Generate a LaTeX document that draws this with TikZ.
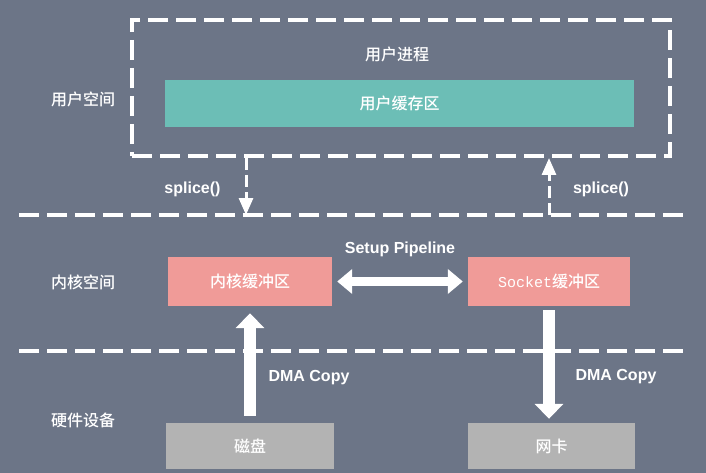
\documentclass[tikz,border=0pt]{standalone}
\usepackage{fontspec}
\setmainfont{Liberation Sans}
\newfontfamily\cjk{Noto Sans CJK SC}[FontFace={mb}{n}{Font=* Medium}]
\newfontfamily\monof{Liberation Mono}
\usetikzlibrary{arrows.meta}
\definecolor{bgc}{RGB}{108,117,135}
\definecolor{tealc}{RGB}{108,190,182}
\definecolor{pinkc}{RGB}{240,155,152}
\definecolor{grayc}{RGB}{179,179,179}
\begin{document}
\begin{tikzpicture}[x=1pt,y=-1pt,
  lbl/.style={text=white,font=\cjk\fontseries{mb}\fontsize{16}{16}\selectfont,inner sep=0pt},
  en/.style={text=white,font=\bfseries\fontsize{16}{16}\selectfont,inner sep=0pt},
  buf/.style={draw=none,inner sep=0pt,text=white,font=\cjk\fontseries{mb}\fontsize{16}{16}\selectfont},
  procbox/.style={draw=white,line width=3.5pt,dash pattern=on 20pt off 8pt,inner sep=0pt},
  sepline/.style={draw=white,line width=4pt,dash pattern=on 20pt off 8pt},
  splicearrow/.style={draw=white,line width=3pt,dash pattern=on 12pt off 5pt,-{Triangle[length=17pt,width=14pt]}},
  fatarrow/.style={draw=white,line width=12pt,-{Triangle[length=15pt,width=28pt]}},
  pipearrow/.style={draw=white,line width=9pt,{Triangle[length=15pt,width=24pt]}-{Triangle[length=15pt,width=24pt]}}
]
\fill[bgc] (0,0) rectangle (706,473);
\useasboundingbox (0,0) rectangle (706,473);

% separators
\coordinate (s1a) at (19,215);
\coordinate (s1b) at (687,215);
\coordinate (s2a) at (19,351);
\coordinate (s2b) at (690,351);
\draw[sepline] (s1a) -- (s1b);
\draw[sepline] (s2a) -- (s2b);

% user process box
\node[procbox,minimum width=538pt,minimum height=136pt] (proc) at (401,88) {};
\node[lbl] (proctitle) at (397,54) {用户进程};
\node[buf,fill=tealc,minimum width=469pt,minimum height=47pt] (ubuf) at (399.5,103.5) {用户缓存区};

% buffers
\node[buf,fill=pinkc,minimum width=164pt,minimum height=49pt] (kbuf) at (250,281.5) {内核缓冲区};
\node[buf,fill=pinkc,minimum width=162pt,minimum height=49pt] (sock) at (549,281.5) {{\monof\fontsize{15}{15}\selectfont Socket}缓冲区};
\node[buf,fill=grayc,minimum width=168pt,minimum height=46pt] (disk) at (250,446) {磁盘};
\node[buf,fill=grayc,minimum width=167pt,minimum height=46pt] (nic) at (551.5,446) {网卡};

% side labels
\node[lbl] (luser) at (83,99) {用户空间};
\node[lbl] (lkern) at (83,282) {内核空间};
\node[lbl] (lhw) at (83,420) {硬件设备};

% splice arrows
\coordinate (spL1) at (246,158);
\coordinate (spL2) at (246,215);
\coordinate (spR1) at (549,215);
\coordinate (spR2) at (549,158);
\draw[splicearrow] (spL1) -- (spL2);
\draw[splicearrow] (spR1) -- (spR2);
\node[en] (splL) at (192.5,189) {splice()};
\node[en] (splR) at (601,189) {splice()};

% pipeline
\draw[pipearrow,shorten <=5pt,shorten >=5pt] (kbuf) -- (sock);
\node[en] (pipe) at (400,249) {Setup Pipeline};

% DMA
\draw[fatarrow,shorten <=7pt,shorten >=7pt] (disk) -- (kbuf);
\draw[fatarrow,shorten <=4pt,shorten >=4pt] (sock.south) -- (sock.south |- nic.north);
\node[en] (dmaL) at (309,378) {DMA Copy};
\node[en] (dmaR) at (616,377) {DMA Copy};
\end{tikzpicture}
\end{document}
